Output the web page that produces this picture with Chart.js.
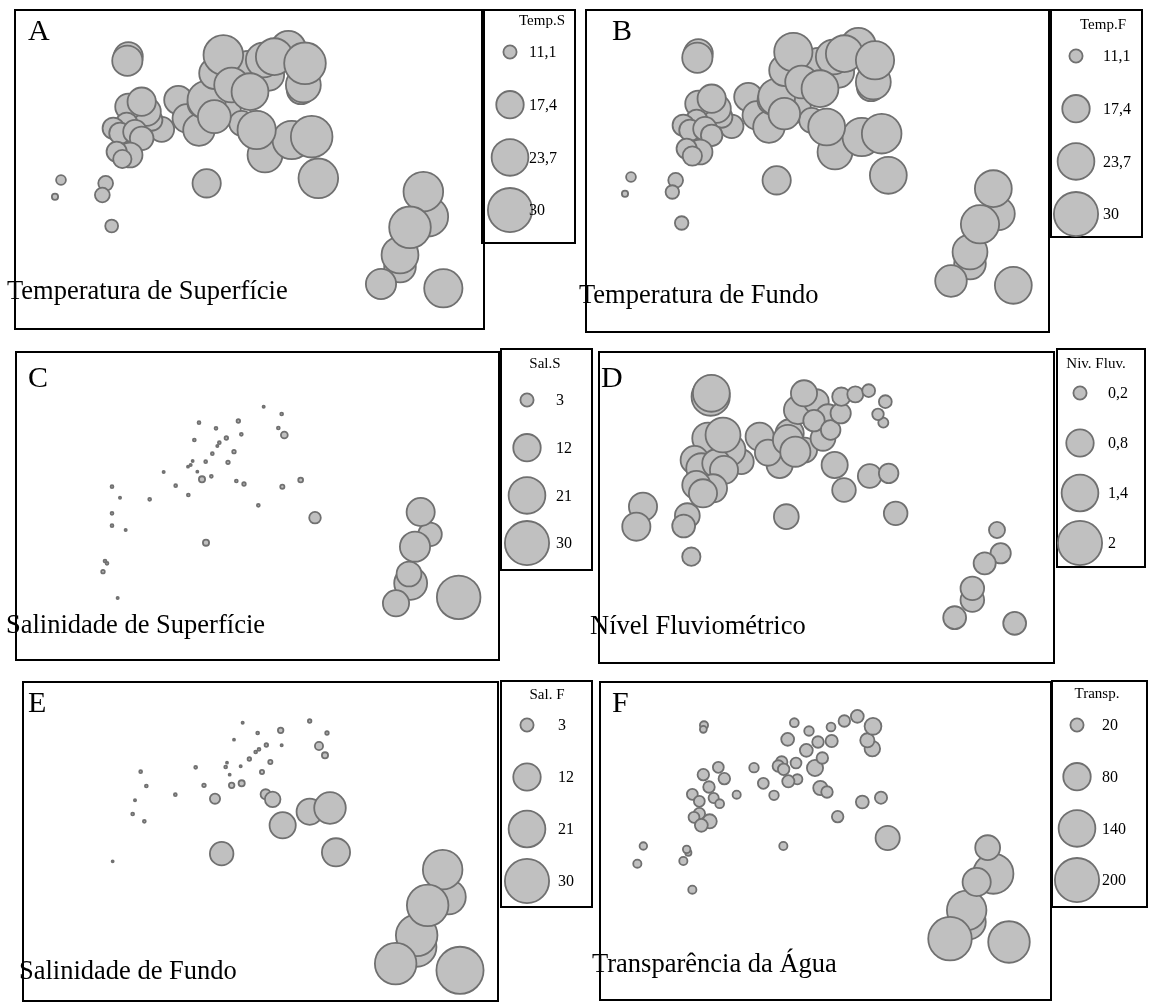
<!DOCTYPE html>
<html lang="pt">
<head>
  <meta charset="UTF-8">
  <title>Distribuição espacial das variáveis ambientais</title>
  <script src="https://cdn.jsdelivr.net/npm/chart.js"></script>
  <style>
    * {
      margin: 0;
      padding: 0;
      box-sizing: border-box;
    }

    body {
      width: 1149px;
      height: 1007px;
      background: #fff;
      position: relative;
      overflow: hidden;
      font-family: 'Liberation Serif', 'Times New Roman', serif;
      color: #000;
    }

    .box {
      position: absolute;
      border: 2px solid #000;
    }

    canvas {
      position: absolute;
    }

    .letter {
      position: absolute;
      font-size: 30px;
      line-height: 1;
    }

    .title {
      position: absolute;
      font-size: 26.5px;
      line-height: 1;
      white-space: nowrap;
    }
  </style>
</head>
<body>
  <script>

    // A / B - temperature (same stations)
    const aX = [138, 120, 272, 262, 290, 575, 340, 337,
      440, 410, 395, 340, 380, 335, 295, 315, 360, 380, 345, 305, 322,
      490, 515, 552, 630, 680, 560, 575, 598,
      600, 700, 760, 858, 865, 745, 820, 625, 778, 870, 650, 705,
      750, 830, 725, 890, 910,
      1240, 1225, 1155, 1155, 1185, 1098, 1285];
    const aY = [510, 560, 520, 555, 648, 520, 140, 152,
      358, 330, 305, 290, 275, 340, 355, 370, 365, 385, 435, 425, 447,
      270, 325, 360, 300, 340, 280, 270, 320,
      190, 170, 195, 240, 225, 150, 115, 135, 140, 160, 225, 245,
      435, 390, 360, 380, 505,
      620, 545, 770, 735, 652, 822, 835];
    const tempS = [10.2, 9.5, 11.6, 11.6, 11.0, 17.9, 18.3, 19.1,
      16.0, 14.3, 17.9, 16.7, 17.9, 14.3, 14.3, 14.3, 15.3, 15.3, 16.0, 13.7, 12.9,
      17.9, 17.9, 20.0, 20.0, 16.0, 17.9, 24.9, 20.9,
      20.0, 20.0, 20.0, 17.9, 22.3, 22.3, 22.3, 26.0, 23.8, 27.7, 22.3, 23.8,
      22.3, 24.9, 24.9, 27.7, 26.0,
      26.0, 26.0, 20.0, 23.8, 27.7, 19.1, 24.9];
    const tempF = [10.2, 9.5, 11.6, 11.2, 11.2, 17.9, 18.3, 19.1,
      15.3, 14.3, 17.9, 16.7, 17.9, 14.3, 14.3, 14.3, 15.3, 14.3, 16.0, 13.7, 13.3,
      17.9, 17.9, 20.0, 20.0, 16.0, 17.9, 23.8, 20.0,
      20.0, 20.0, 20.0, 17.9, 22.3, 22.3, 22.3, 24.9, 23.8, 24.9, 20.9, 23.8,
      22.3, 24.9, 23.8, 26.0, 23.8,
      20.9, 23.8, 20.0, 22.3, 24.9, 20.0, 23.8];
    const tempBreaks = [11.1, 17.4, 23.7, 30];

    // C - surface salinity
    const cX = [746, 800, 552, 670, 603, 790, 808, 679, 538, 634,
      613, 607, 592, 657, 572, 533, 527, 519, 639, 547,
      446, 561, 589, 664, 687, 482, 291, 520, 315, 404,
      802, 857, 730, 291, 291, 332, 900, 573, 270, 276,
      264, 308,
      1245, 1217, 1187, 1200, 1182, 1143, 1331];
    const cY = [170, 192, 218, 213, 235, 234, 255, 253, 270, 264,
      278, 288, 311, 305, 335, 333, 345, 350, 337, 365,
      366, 388, 379, 393, 402, 407, 410, 435, 443, 448,
      410, 390, 466, 490, 527, 540, 503, 578, 633, 640,
      665, 744,
      553, 486, 700, 590, 672, 760, 742];
    const salS = [0.02, 0.1, 0.1, 0.19, 0.1, 0.1, 0.85, 0.1, 0.1, 0.19,
      0.1, 0.02, 0.1, 0.19, 0.1, 0, 0.02, 0, 0.19, 0,
      0.02, 0.7, 0.1, 0.1, 0.19, 0.1, 0.1, 0.1, 0.02, 0.1,
      0.3, 0.42, 0.1, 0.1, 0.1, 0.02, 2.35, 0.7, 0.1, 0.1,
      0.19, 0.02,
      9.0, 12.6, 17.0, 14.4, 9.9, 11.0, 29.2];
    const salBreaks = [3, 12, 21, 30];

    // D - river level
    const dX = [135, 115, 268, 257, 280, 565, 893, 338, 340,
      430, 395, 330, 290, 310, 355, 375, 378, 345, 295, 315,
      545, 620, 575, 485, 510, 570, 592,
      600, 655, 675, 690, 618, 648, 698, 728, 730, 772, 812, 862, 856, 840,
      710, 738, 815, 872,
      1197, 1208, 1160, 1123, 1123, 1070, 1250];
    const dY = [470, 530, 497, 528, 620, 500, 490, 140, 130,
      335, 300, 265, 330, 355, 340, 255, 360, 415, 405, 430,
      345, 300, 250, 260, 308, 270, 305,
      180, 155, 265, 200, 130, 212, 240, 190, 140, 133, 122, 155, 218, 193,
      345, 420, 378, 370,
      540, 610, 640, 750, 715, 803, 820];
    const nivel = [0.84, 0.84, 0.66, 0.565, 0.37, 0.66, 0.6, 1.51, 1.41,
      0.66, 1.04, 1.04, 0.84, 0.96, 0.84, 1.27, 0.84, 0.84, 0.84, 0.84,
      0.73, 0.66, 0.84, 0.84, 0.73, 0.96, 0.96,
      0.84, 0.66, 0.66, 0.66, 0.73, 0.5, 0.42, 0.45, 0.37, 0.29, 0.19, 0.19, 0.12, 0.155,
      0.73, 0.6, 0.6, 0.42,
      0.29, 0.45, 0.53, 0.6, 0.6, 0.565, 0.565];
    const nivelBreaks = [0.2, 0.8, 1.4, 2];

    // E - bottom salinity
    const eX = [683, 884, 936, 797, 728, 657, 800, 754, 732, 722,
      912, 930, 636, 632, 677, 703, 766, 542, 644, 741,
      377, 394, 567, 650, 680, 481, 360, 353, 388, 293,
      600, 752, 773, 803, 884, 945, 963, 620,
      1300, 1283, 1205, 1205, 1238, 1142, 1335];
    const eY = [122, 117, 153, 145, 153, 173, 190, 189, 202, 210,
      192, 220, 242, 255, 253, 231, 240, 256, 278, 270,
      269, 312, 310, 310, 304, 338, 355, 396, 418, 538,
      350, 337, 352, 430, 389, 378, 511, 515,
      645, 563, 795, 760, 670, 845, 865];
    const salF = [0.02, 0.19, 0.19, 0.55, 0.1, 0, 0.02, 0.19, 0.1, 0.1,
      1.2, 0.7, 0, 0.1, 0.02, 0.19, 0.3, 0.1, 0, 0.3,
      0.1, 0.1, 0.19, 0.55, 0.7, 0.1, 0.02, 0.1, 0.1, 0,
      1.84, 1.84, 4.1, 11.0, 11.0, 15.7, 12.6, 8.95,
      19.0, 24.2, 24.2, 26.6, 26.6, 26.6, 34];

    // F - water transparency
    const fX = [357, 355, 628, 672, 738, 778, 817, 862, 847, 864,
      608, 740, 699, 664, 690, 712, 633, 590, 580, 596,
      637, 610, 507, 535, 567, 706, 726, 400, 418, 355,
      372, 322, 343, 386, 404, 455, 343, 327, 374, 349,
      758, 832, 888, 908, 175, 157, 310, 305, 295, 595,
      322,
      1225, 1208, 1150, 1145, 1175, 1095, 1272];
    const fY = [130, 142, 122, 147, 135, 117, 103, 200, 175, 133,
      172, 177, 180, 205, 258, 228, 243, 240, 252, 262,
      292, 298, 257, 304, 340, 318, 330, 256, 290, 278,
      315, 337, 358, 348, 365, 338, 395, 406, 418, 430,
      404, 360, 347, 468, 492, 545, 512, 502, 537, 492,
      623,
      575, 497, 720, 685, 600, 770, 780];
    const transp = [8.1, 5.7, 9.4, 10.8, 9.4, 15.5, 19.1, 27.2, 23, 31.7,
      19.1, 17.3, 15.5, 19.1, 29.4, 15.5, 13.9, 15.5, 15.5, 15.5,
      12.3, 17.3, 10.8, 13.9, 10.8, 23, 15.5, 13.9, 15.5, 15.5,
      15.5, 13.9, 13.9, 12.3, 9.4, 8.1, 15.5, 13.9, 23, 19.1,
      15.5, 19.1, 17.3, 63, 6.9, 8.1, 4.7, 6.9, 8.1, 8.1,
      8.1,
      166.5, 66.3, 126.5, 161, 84.3, 194, 177.4];
    const transpBreaks = [20, 80, 140, 200];

    // symbol area grows linearly with the value: first break -> r 7.5, last break -> r 23
    function radius(v, breaks) {
      const lo = breaks[0], hi = breaks[breaks.length - 1];
      const area = 7.5 * 7.5 + (23 * 23 - 7.5 * 7.5) * (v - lo) / (hi - lo);
      const outer = Math.sqrt(Math.max(area, 3.6));
      return Math.max(outer - 0.9, 0.8);
    }

    const fmt = v => String(v).replace('.', ',');

    const panels = [
      { letter: 'A', title: 'Temperatura de Superfície', xs: aX, ys: aY, vals: tempS, breaks: tempBreaks,
        box: [14, 9, 471, 321], plot: [15, 10, 470, 320], range: [1410, 960],
        letterAt: [28, 40], titleAt: [7, 299],
        legend: { name: 'Temp.S', box: [481, 9, 95, 235], cx: 29, top: 43, step: 52.7, dx: 19, titleX: 61, titleY: 16 } },
      { letter: 'B', title: 'Temperatura de Fundo', xs: aX, ys: aY, vals: tempF, breaks: tempBreaks,
        box: [585, 9, 465, 324], plot: [585, 7, 470, 320], range: [1410, 960],
        letterAt: [612, 40], titleAt: [579, 303],
        legend: { name: 'Temp.F', box: [1050, 9, 93, 229], cx: 26, top: 47, step: 52.7, dx: 27, titleX: 53, titleY: 20 } },
      { letter: 'C', title: 'Salinidade de Superfície', xs: cX, ys: cY, vals: salS, breaks: salBreaks,
        box: [15, 351, 485, 310], plot: [15, 350, 485, 312], range: [1455, 936],
        letterAt: [28, 387], titleAt: [6, 633],
        legend: { name: 'Sal.S', box: [500, 348, 93, 223], cx: 27, top: 52, step: 47.7, dx: 29, titleX: 45, titleY: 20 } },
      { letter: 'D', title: 'Nível Fluviométrico', xs: dX, ys: dY, vals: nivel, breaks: nivelBreaks,
        box: [598, 351, 457, 313], plot: [598, 350, 460, 315], range: [1380, 945],
        letterAt: [601, 387], titleAt: [590, 634],
        legend: { name: 'Niv. Fluv.', box: [1056, 348, 90, 220], cx: 24, top: 45, step: 50, dx: 28, titleX: 40, titleY: 20 } },
      { letter: 'E', title: 'Salinidade de Fundo', xs: eX, ys: eY, vals: salF, breaks: salBreaks,
        box: [22, 681, 477, 321], plot: [15, 682, 485, 322], range: [1455, 966],
        letterAt: [28, 712], titleAt: [19, 979],
        legend: { name: 'Sal. F', box: [500, 680, 93, 228], cx: 27, top: 45, step: 52, dx: 31, titleX: 47, titleY: 19 } },
      { letter: 'F', title: 'Transparência da Água', xs: fX, ys: fY, vals: transp, breaks: transpBreaks,
        box: [599, 681, 453, 320], plot: [585, 682, 468, 320], range: [1404, 960],
        letterAt: [612, 712], titleAt: [592, 972],
        legend: { name: 'Transp.', box: [1051, 680, 97, 228], cx: 26, top: 45, step: 51.7, dx: 25, titleX: 46, titleY: 18 } }
    ];

    const FILL = '#c0c0c0';
    const EDGE = '#707070';

    function addBox(b) {
      const d = document.createElement('div');
      d.className = 'box';
      d.style.left = b[0] + 'px';
      d.style.top = b[1] + 'px';
      d.style.width = b[2] + 'px';
      d.style.height = b[3] + 'px';
      document.body.appendChild(d);
    }

    function addCanvas(r) {
      const cv = document.createElement('canvas');
      cv.width = r[2];
      cv.height = r[3];
      cv.style.left = r[0] + 'px';
      cv.style.top = r[1] + 'px';
      document.body.appendChild(cv);
      return cv;
    }

    function addText(cls, text, x, baseline, size) {
      const d = document.createElement('div');
      d.className = cls;
      d.textContent = text;
      d.style.left = x + 'px';
      d.style.top = (baseline - size * 0.8375) + 'px';
      document.body.appendChild(d);
    }

    // no auto padding: the scales must span the whole canvas
    const baseOptions = {
      responsive: false,
      animation: false,
      events: [],
      layout: { padding: 0, autoPadding: false },
      plugins: { legend: { display: false }, tooltip: { enabled: false } }
    };

    function legendText(lg, labels) {
      return {
        id: 'legendText',
        afterDatasetsDraw(chart) {
          const ctx = chart.ctx;
          const pts = chart.getDatasetMeta(0).data;
          ctx.save();
          ctx.fillStyle = '#000';
          ctx.font = '16px "Liberation Serif", serif';
          ctx.textAlign = 'left';
          ctx.textBaseline = 'middle';
          pts.forEach((pt, i) => ctx.fillText(labels[i], pt.x + lg.dx, pt.y + 1));
          ctx.font = '15px "Liberation Serif", serif';
          ctx.textAlign = 'center';
          ctx.textBaseline = 'alphabetic';
          ctx.fillText(lg.name, lg.titleX, lg.titleY);
          ctx.restore();
        }
      };
    }

    panels.forEach(p => {
      addBox(p.box);
      addBox(p.legend.box);

      // map panel
      new Chart(addCanvas(p.plot), {
        type: 'bubble',
        data: {
          datasets: [{
            data: p.xs.map((x, i) => ({ x: x, y: p.ys[i], r: radius(p.vals[i], p.breaks) })),
            backgroundColor: FILL,
            borderColor: EDGE,
            borderWidth: 1.8,
            clip: false
          }]
        },
        options: Object.assign({}, baseOptions, {
          scales: {
            x: { type: 'linear', display: false, min: 0, max: p.range[0] },
            y: { type: 'linear', display: false, reverse: true, min: 0, max: p.range[1] }
          }
        })
      });

      // size legend
      const lg = p.legend;
      const w = lg.box[2], h = lg.box[3];
      new Chart(addCanvas(lg.box), {
        type: 'bubble',
        data: {
          datasets: [{
            data: p.breaks.map((b, i) => ({ x: 0, y: i, r: radius(b, p.breaks) })),
            backgroundColor: FILL,
            borderColor: EDGE,
            borderWidth: 1.8,
            clip: false
          }]
        },
        options: Object.assign({}, baseOptions, {
          scales: {
            x: { type: 'linear', display: false, min: -lg.cx, max: w - lg.cx },
            y: { type: 'linear', display: false, reverse: true, min: -lg.top / lg.step, max: (h - lg.top) / lg.step }
          }
        }),
        plugins: [legendText(lg, p.breaks.map(fmt))]
      });

      addText('letter', p.letter, p.letterAt[0], p.letterAt[1], 30);
      addText('title', p.title, p.titleAt[0], p.titleAt[1], 26.5);
    });
  </script>
</body>
</html>
